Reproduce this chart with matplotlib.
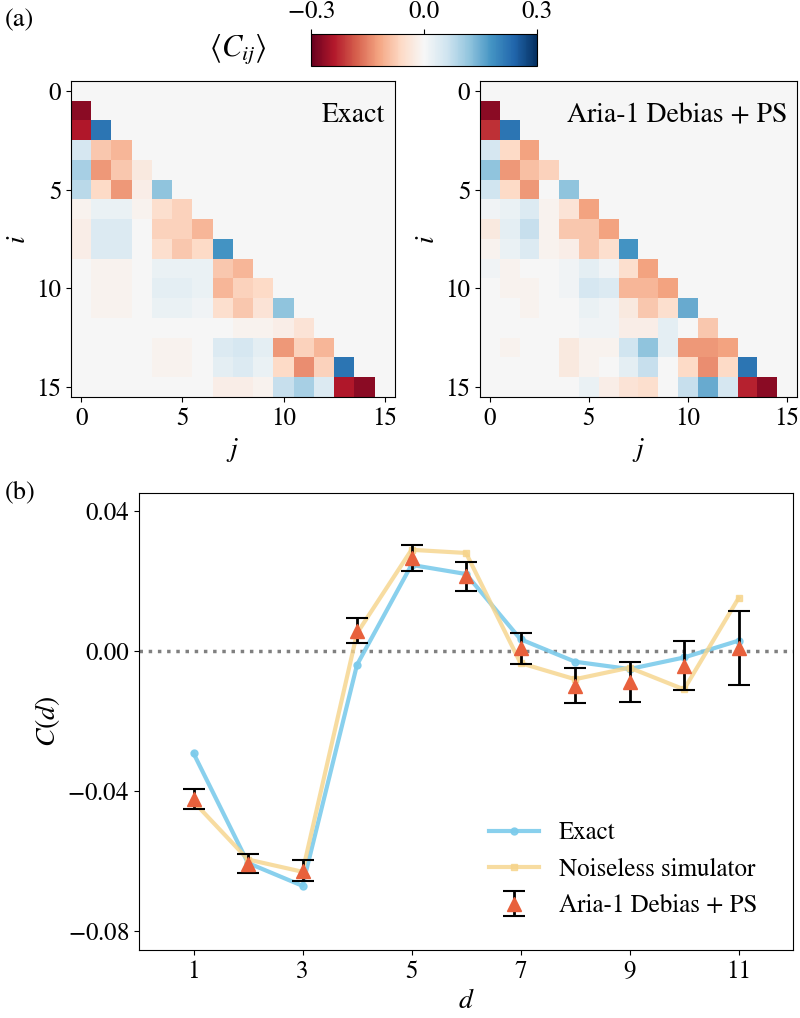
import numpy as np
import matplotlib

matplotlib.use("Agg")
import matplotlib.pyplot as plt  # noqa: E402

plt.rcParams["font.family"] = ["STIXGeneral", "DejaVu Serif"]
plt.rcParams["mathtext.fontset"] = "stix"
plt.rcParams["font.size"] = 18

N = 16

# lower-triangle rows: row i holds C[i, 0..i-1]
exact_rows = [
    [],
    [-0.27],
    [-0.24, 0.22],
    [0.05, -0.08, -0.10],
    [0.10, -0.13, -0.08, -0.03],
    [0.08, -0.06, -0.13, -0.02, 0.12],
    [-0.01, 0.02, 0.02, -0.01, -0.05, -0.07],
    [-0.02, 0.04, 0.04, 0.00, -0.07, -0.07, -0.10],
    [-0.02, 0.04, 0.04, 0.00, -0.05, -0.08, -0.06, 0.18],
    [0.00, -0.01, -0.01, 0.00, 0.02, 0.02, 0.02, -0.08, -0.10],
    [0.00, -0.01, -0.01, 0.00, 0.03, 0.03, 0.02, -0.10, -0.07, -0.06],
    [0.00, -0.01, -0.01, 0.00, 0.02, 0.02, 0.01, -0.05, -0.08, -0.04, 0.12],
    [0.00, 0.00, 0.00, 0.00, 0.00, 0.00, 0.00, 0.00, -0.01, -0.01, -0.02, -0.04],
    [0.00, 0.00, 0.00, 0.00, -0.01, -0.01, 0.00, 0.04, 0.05, 0.03, -0.13, -0.07, -0.10],
    [0.00, 0.00, 0.00, 0.00, -0.01, -0.01, 0.00, 0.03, 0.04, 0.02, -0.06, -0.14, -0.07, 0.22],
    [0.00, 0.00, 0.00, 0.00, 0.00, 0.00, 0.00, -0.02, -0.02, -0.01, 0.07, 0.10, 0.04, -0.24, -0.27],
]

aria_rows = [
    [],
    [-0.27],
    [-0.22, 0.22],
    [0.05, -0.06, -0.12],
    [0.12, -0.13, -0.09, -0.07],
    [0.06, -0.06, -0.13, 0.00, 0.12],
    [0.01, 0.02, 0.04, -0.01, -0.04, -0.12],
    [-0.03, 0.03, 0.07, -0.01, -0.08, -0.08, -0.12],
    [-0.01, 0.02, 0.04, -0.01, -0.02, -0.08, -0.05, 0.18],
    [0.01, -0.01, 0.00, 0.00, 0.01, 0.03, 0.01, -0.05, -0.12],
    [0.00, -0.01, -0.01, 0.00, 0.01, 0.05, 0.04, -0.10, -0.10, -0.12],
    [0.00, 0.00, -0.01, 0.00, 0.00, 0.02, 0.01, -0.03, -0.08, -0.05, 0.15],
    [0.00, 0.00, 0.00, 0.00, 0.00, 0.01, 0.01, -0.02, -0.02, 0.03, 0.00, -0.08],
    [0.00, -0.01, 0.00, 0.00, -0.03, -0.01, -0.01, 0.06, 0.12, 0.03, -0.13, -0.13, -0.12],
    [0.00, 0.00, 0.00, 0.00, -0.03, -0.01, 0.00, 0.03, 0.07, 0.00, -0.06, -0.14, -0.06, 0.22],
    [0.00, 0.00, 0.00, 0.00, 0.00, 0.02, -0.02, -0.04, -0.05, 0.00, 0.07, 0.15, 0.05, -0.23, -0.27],
]

d = [1, 2, 3, 4, 5, 6, 7, 8, 9, 10, 11]
c_exact = [-0.0292, -0.0605, -0.0670, -0.0040, 0.0245, 0.0219, 0.0033, -0.0031, -0.0052, -0.0019, 0.0029]
c_noiseless = [-0.0430, -0.0595, -0.0630, 0.0050, 0.0288, 0.0279, -0.0035, -0.0081, -0.0048, -0.0110, 0.0150]
c_aria = [-0.0422, -0.0607, -0.0627, 0.0057, 0.0265, 0.0212, 0.0007, -0.0100, -0.0089, -0.0043, 0.0008]
c_aria_err = [0.0029, 0.0027, 0.0030, 0.0036, 0.0038, 0.0042, 0.0044, 0.0050, 0.0056, 0.0070, 0.0105]


def to_matrix(rows):
    m = np.zeros((N, N))
    for i, row in enumerate(rows):
        m[i, : len(row)] = row
    return m


W, H = 800, 1018
fig = plt.figure(figsize=(W / 100, H / 100), dpi=100)


def px_axes(x0, y0, x1, y1):
    return fig.add_axes([x0 / W, 1 - y1 / H, (x1 - x0) / W, (y1 - y0) / H])


ax_l = px_axes(71, 81, 395, 397)
ax_r = px_axes(480, 81, 797, 397)
for ax, rows, title in [(ax_l, exact_rows, "Exact"), (ax_r, aria_rows, "Aria-1 Debias + PS")]:
    im = ax.imshow(to_matrix(rows), cmap="RdBu", vmin=-0.3, vmax=0.3, aspect="auto")
    ax.set_xticks([0, 5, 10, 15])
    ax.set_yticks([0, 5, 10, 15])
    ax.set_xlabel("$j$", fontsize=20)
    ax.set_ylabel("$i$", fontsize=20)
    ax.text(0.97, 0.89, title, transform=ax.transAxes, ha="right", va="center", fontsize=20)

cax = px_axes(311, 34, 537, 66)
cb = fig.colorbar(im, cax=cax, orientation="horizontal", ticks=[-0.3, 0.0, 0.3])
cax.xaxis.set_ticks_position("top")
cax.set_xticklabels(["$-0.3$", "0.0", "0.3"])
fig.text(238 / W, 1 - 50 / H, r"$\langle C_{ij}\rangle$", ha="center", va="center", fontsize=22)

ax_b = px_axes(139, 493, 793, 950)
ax_b.axhline(0, color="gray", linestyle=":", linewidth=2.5)
ax_b.plot(d, c_exact, "-o", color="#7ccbeb", lw=3, ms=5, alpha=0.9, label="Exact")
ax_b.plot(d, c_noiseless, "-s", color="#f6d48a", lw=3, ms=5, alpha=0.8, label="Noiseless simulator")
ax_b.errorbar(d, c_aria, yerr=c_aria_err, fmt="^", color="#e8603c", ms=10,
              ecolor="black", elinewidth=2, capsize=8, capthick=1.5, label="Aria-1 Debias + PS")
ax_b.set_xlim(0, 12)
ax_b.set_ylim(-0.0853, 0.045)
ax_b.set_xticks([1, 3, 5, 7, 9, 11])
ax_b.set_yticks([0.04, 0.0, -0.04, -0.08])
ax_b.set_yticklabels(["0.04", "0.00", "$-0.04$", "$-0.08$"])
ax_b.set_xlabel("$d$", fontsize=20)
ax_b.set_ylabel("$C(d)$", fontsize=20)
ax_b.legend(loc="lower right", frameon=False, fontsize=18, bbox_to_anchor=(0.98, 0.02))

fig.text(5 / W, 1 - 20 / H, "(a)", ha="left", va="center", fontsize=19)
fig.text(5 / W, 1 - 492 / H, "(b)", ha="left", va="center", fontsize=19)

fig.savefig("out.png", dpi=100)
